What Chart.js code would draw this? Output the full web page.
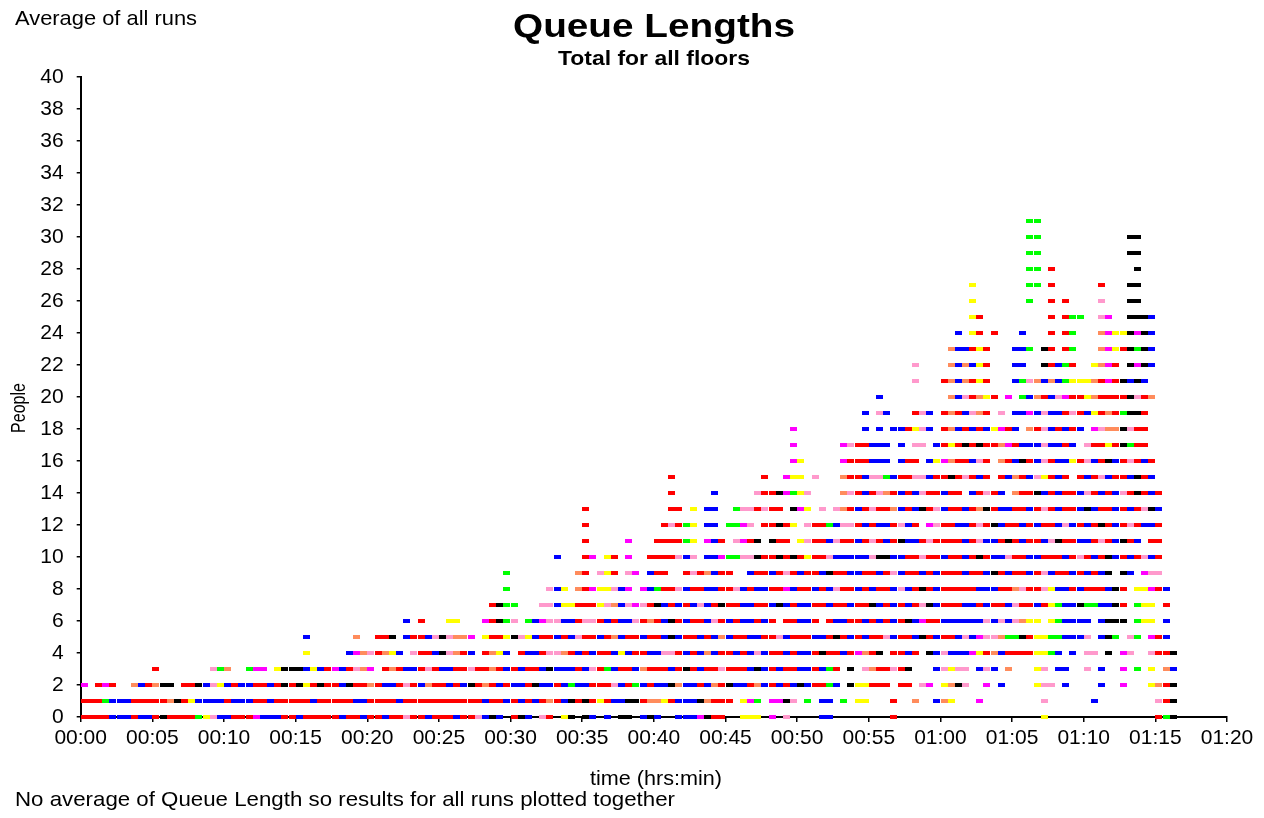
<!DOCTYPE html>
<html>
<head>
<meta charset="utf-8">
<script src="https://cdn.jsdelivr.net/npm/chart.js@4.4.0/dist/chart.umd.min.js"></script>
<style>
html,body{margin:0;padding:0;background:#ffffff;}
#wrap{width:1264px;height:818px;position:relative;}
</style>
</head>
<body>
<div id="wrap"><canvas id="c" width="1264" height="818"></canvas></div>
<script>
// ---- data ----
// each row: queue length level, first time bin, and one character per half-minute bin
// r=red b=blue p=pink o=orange y=yellow g=green k=black m=magenta .=no point
const binMinutes = 0.5;
const colorCodes = ['r','b','p','o','y','g','k','m'];
const seriesColors = ['#ff0000','#0000ff','#ff99cc','#ff8c5c','#ffff00','#00ff00','#000000','#ff00ff'];
const seriesNames = ['Run red','Run blue','Run pink','Run orange','Run yellow','Run green','Run black','Run magenta'];

const rowLevel = [0,1,2,3,4,5,6,7,8,9,10,11,12,13,14,15,16,17,18,19,20,21,22,23,24,25,26,27,28,29,30,31];
const rowStart = [0,0,0,10,31,31,45,57,59,59,66,70,70,70,82,82,99,99,99,109,111,116,116,121,122,124,124,124,132,132,132,132];
const rowBins = [
  ["rrrrbbbrbb","rkrrrrgypb","brrrmbbbrr","brrrrrbrrb","rrbrrprrbr","rrbrrpb","kb.rkb.pr.","yk.kb.b.kk.bk","b..bbbmkrr","..yyy.m.p.","...bb.....","...r........","............","y","...............","rgk"].join(''),
  ["rrrgbbbrrr","rrokrybbbb","rbbbrrbrrr","rrbrrrrrbb","rrrrbrrrrr","rrrrrrbrrb","rbrbrorbkr","kryrbbkkro","oyrbbbkorr","r.ymg.mmkp",".g.bb.g.yy","...r..o..boy","...m......","..p......b","........","prk"].join(''),
  ["m.rmr..obr","okk.rrkbpy","brbbrrbrkr","kyrkrrbkrr","orbbrprbor","rbrbkrorbr","bbrkbbrbgb","brrrpbrgbr","bbkobbrbor","kbbrobrbrb","kbrrgb",".kyyrrr.rr.pm.yo","kp..m.b...",".ypp.b....","b..m...","york"].join(''),
  ["r.......pg","o..gmm.ykk","kbybrmbrpo","m.rorbbrpr","bbrrprrorb","rbrrbkbbbr","bprgbrrbor","rrbrkrbrrp","rrrbkbrbrr","bbrbgr",".k.porrprk...bpy","pp.bpb.o..",".yp.bb..p.","b..m.g.y.ob"].join(''),
  ["y.....bmo","proyb.prrb","kporb.royb",".rbbrpporb","rbrrbybrrb","bpprbrbobr","rbrbpbrrbr","bbrkrrbr","mork.rrbr.kbpb","bbmyrobrrr","ryygb.b.pp",".k.mp..prrk"].join(''),
  ["b......o.",".rrk.brrbp","kpoom.yrry","kpybrrbrbp","rrbrobrrbr","rbkbrrbrbo","brrbbrrpbr","rrbbrkrbrb","rrpbrrbkrbrr","bpbmppoggk","ryyggbbbp.","bkg.pg.mrb."].join(''),
  ["b.r...yy..",".mrkgp.gbm","ppbbrpprbr","bbpro","rbkrbrrbpr","brbbrbr.rr","bbr.rbbrrb","rbrbrkbmrrbb","bbbbpbpbpo","yy.ygbbbb.","bkkk.gyy.b."].join(''),
  ["rkgg...ppb","yyrrrypobpmpr","kbrbrbpbrk","rrbbrrbkbr","bbrrbrrbrr","kbrbrbrpkbrr","rbbrbrrbpr","rbrygbbkgg","bbkr.gyy.r."].join(''),
  ["g.....pby.","ormyypbm.mb","grrpbrrbbr","rpbrbbrrmb","rrbrbprrbr","brrbpbrkrbrr","rrrbbbrrop","rrpybbrbrr","rbkr.yymrb."].join(''),
  ["g.........","or.pyr.pm.b","rr..rprobr","r..brrbrpr","brrbkrrbbr","rbrpbrrbrbrr","rbrrbkrbrr","brpbrrbrbr","bk.kb.mpp.."].join(''),
  ["b...rm.yr.m..r","rrrpbp.bbm","ggppkrrkrk","ryrrpbbbbb","pkkbbrrprrbr","rbrkrbbprr","bbrrrbrprb","rkbrbrpbr"].join(''),
  ["r.....m...","rrrrgy.mbr",".pmrk.krr.","yprrbprrbr","prbrkbbrprrr","rbrpbbrkrb","rrbpkrrbbr","prbkrb.rr"].join(''),
  ["r.........",".rprgy.bb.","ggmp.rrkry",".prrgbpprb","rbbrpbr.mprr","bbrprkbrrb","rbrrbpbrbr","krbrprbbr"].join(''),
  ["r.........","..rr.y.bb.",".gpprprr.k","my.p.porbr","prrobrbkrpbr","rbrokrbbrr","brprbrrbkb","rrbrbrpkb"].join(''),
  ["r.....b...","..prrkmgyp","....oprbrp","orbrbprrbr","r.brprb.or","rkbrbrrbpr","brbprkrbr"].join(''),
  ["r.........","...r..myy.","p...orrbpp","gbrrppbrrk","rprbr.rbor","bpyrbr.rbr","pbrrbkrb"].join(''),
  ["my.....mrr","rbbb.brr.bymo","rrbpr.orbk","rbprbbyrpb","rkbrprbr"].join(''),
  ["m......mpr","rbbb.b.pp.bry","rkrkrromrb","bbpbbrb.pr","ryrkgrr."].join(''),
  ["m.........","b.b.bbrypb.ro","brbrbymrb.","orpbrbrb.m","pookprr."].join(''),
  ["b.pb...rpb.ro","rbpor.p.bb","mbpbbrprby","rorgkkr."].join(''),
  ["b.........o","bproyr.m.g","borbpmrryo","rrrrkpro"].join(''),
  ["p...ro","boryr...bg","pobobgyyyo","rmrkbkb."].join(''),
  ["p....o","bobyr...bb","..krbgr..y","omr.kmkb"].join(''),
  ["obbryr...b","bg.kr.rg..",".omyrkgkb"].join(''),
  ["b.yr.r...b","...r.rg...","omyykmkb"].join(''),
  ["yr........",".r.rgg..pm","..kkkb"].join(''),
  ["y.......g.",".r.r....p.","..kk"].join(''),
  ["y.......gg",".r......r.","..kk"].join(''),
  ["gg.r...........k"].join(''),
  ["gg............kk"].join(''),
  ["gg............kk"].join(''),
  ["gg"].join('')
];

const xTickLabels = ['00:00','00:05','00:10','00:15','00:20','00:25','00:30','00:35','00:40','00:45','00:50','00:55','01:00','01:05','01:10','01:15','01:20'];
const yTickStep = 2;
const yMax = 40;
const xMax = 80;

// ---- build datasets from the rows ----
function makeDot(color){
  const c = document.createElement('canvas');
  c.width = 7; c.height = 4;
  const g = c.getContext('2d');
  g.fillStyle = color;
  g.fillRect(0,0,7,4);
  return c;
}
const datasets = colorCodes.map((code, ci) => {
  const pts = [];
  rowBins.forEach((s, r) => {
    for (let i = 0; i < s.length; i++) {
      if (s[i] === code) {
        pts.push({x: (rowStart[r] + i) * binMinutes + binMinutes / 2, y: rowLevel[r]});
      }
    }
  });
  return {
    label: seriesNames[ci],
    data: pts,
    pointStyle: makeDot(seriesColors[ci]),
    backgroundColor: seriesColors[ci],
    borderColor: seriesColors[ci],
    pointRadius: 3,
    showLine: false,
    clip: false
  };
});

const FONT = "'Liberation Sans', Arial, Helvetica, sans-serif";

function fitText(ctx, text, x, y, width, font, align){
  ctx.save();
  ctx.font = font;
  const w = ctx.measureText(text).width;
  const sx = width / w;
  ctx.translate(x, y);
  ctx.scale(sx, 1);
  ctx.textBaseline = 'alphabetic';
  ctx.textAlign = 'left';
  const x0 = align === 'center' ? -w / 2 : 0;
  ctx.fillText(text, x0, 0);
  ctx.restore();
}

const textPlugin = {
  id: 'texts',
  afterDraw(chart){
    const ctx = chart.ctx;
    ctx.save();
    ctx.fillStyle = '#000';
    fitText(ctx, 'Queue Lengths', 654, 37, 282, "bold 33px " + FONT, 'center');
    fitText(ctx, 'Total for all floors', 654, 65, 192, "bold 21px " + FONT, 'center');
    fitText(ctx, 'Average of all runs', 15, 25, 182, "21px " + FONT, 'left');
    fitText(ctx, 'time (hrs:min)', 656, 785, 132, "21px " + FONT, 'center');
    fitText(ctx, 'No average of Queue Length so results for all runs plotted together', 15, 806, 660, "21px " + FONT, 'left');
    ctx.save();
    ctx.translate(25, 408);
    ctx.rotate(-Math.PI / 2);
    fitText(ctx, 'People', 0, 0, 50, "20px " + FONT, 'center');
    ctx.restore();
    ctx.restore();
  }
};

new Chart(document.getElementById('c'), {
  type: 'scatter',
  data: {datasets},
  options: {
    responsive: false,
    animation: false,
    devicePixelRatio: 1,
    events: [],
    layout: {padding: {top: 77, right: 37, bottom: 0, left: 0}},
    plugins: {legend: {display: false}, tooltip: {enabled: false}, title: {display: false}},
    scales: {
      x: {
        type: 'linear', min: 0, max: xMax,
        ticks: {
          stepSize: 5, autoSkip: false, maxRotation: 0, color: '#000', padding: 4,
          font: {family: FONT, size: 21},
          callback: v => xTickLabels[Math.round(v / 5)]
        },
        grid: {display: true, drawOnChartArea: false, drawTicks: true, tickLength: 5, color: '#000', lineWidth: 1.5},
        border: {display: true, color: '#000', width: 2},
        afterFit: s => { s.height = 101; }
      },
      y: {
        type: 'linear', min: 0, max: yMax,
        ticks: {stepSize: yTickStep, color: '#000', padding: 13, font: {family: FONT, size: 21}},
        grid: {display: true, drawOnChartArea: false, drawTicks: true, tickLength: 4, color: '#000', lineWidth: 1.5},
        border: {display: true, color: '#000', width: 2},
        afterFit: s => { s.width = 80.7; }
      }
    }
  },
  plugins: [textPlugin]
});
</script>
</body>
</html>
